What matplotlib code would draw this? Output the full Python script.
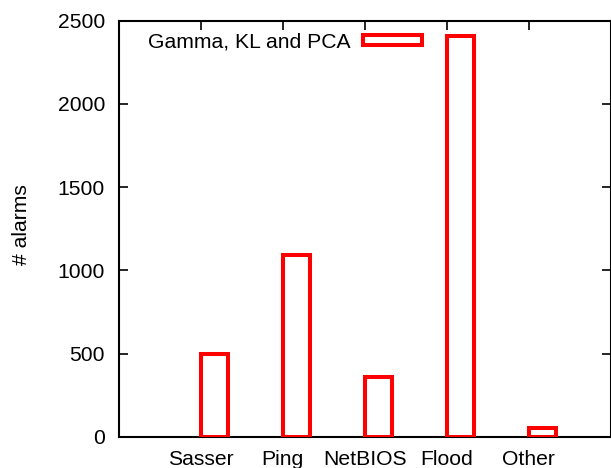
import matplotlib
matplotlib.use("Agg")
import matplotlib.pyplot as plt
from matplotlib.patches import Patch
import numpy as np

categories = ["Sasser", "Ping", "NetBIOS", "Flood", "Other"]
alarms = [495, 1090, 360, 2408, 50]
series_name = "Gamma, KL and PCA"
y_ticks = [0, 500, 1000, 1500, 2000, 2500]

plt.rcParams["font.family"] = ["Liberation Sans", "DejaVu Sans"]
plt.rcParams["font.size"] = 15.2

W, H = 611, 468
fig = plt.figure(figsize=(W / 100, H / 100), dpi=100)
ax = fig.add_axes([119 / W, 1 - 436.7 / H, (610.5 - 119) / W, (436.7 - 20.7) / H])

x = np.arange(len(categories))
bar_w = 1 / 3
ax.bar(x, alarms, width=bar_w, align="edge", facecolor="none",
       edgecolor="#ff0000", linewidth=2.9, zorder=3, joinstyle="miter")

ax.set_xlim(-1, 5)
ax.set_ylim(0, 2500)
ax.set_xticks(x)
ax.set_xticklabels(categories)
ax.set_yticks(y_ticks)
ax.tick_params(axis="both", direction="in", length=6.5, width=1.2,
               top=True, right=True, colors="black")
ax.tick_params(axis="y", pad=10)
ax.tick_params(axis="x", pad=9.5)

for s in ax.spines.values():
    s.set_linewidth(1.5)
    s.set_color("black")

ax.set_ylabel("# alarms")
ax.yaxis.set_label_coords(-0.180, 0.51)

handle = Patch(facecolor="none", edgecolor="#ff0000", linewidth=2.9)
leg = ax.legend([handle], [series_name], loc="upper right", markerfirst=False,
                frameon=False, handlelength=2.75, handleheight=0.38,
                handletextpad=0.6, borderpad=0, borderaxespad=0,
                bbox_to_anchor=(421.5 / W, 1 - 32.5 / H),
                bbox_transform=fig.transFigure)

fig.savefig("out.png", dpi=100)
